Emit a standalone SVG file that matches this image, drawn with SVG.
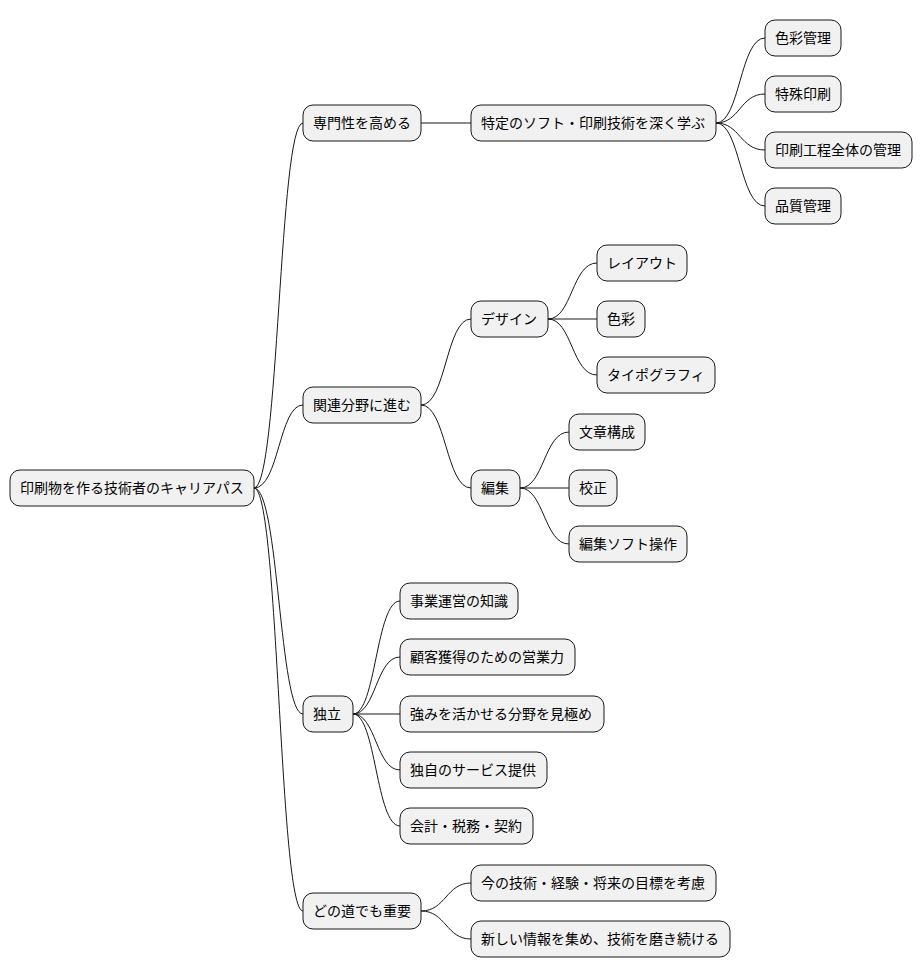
<svg xmlns="http://www.w3.org/2000/svg" width="922" height="978" viewBox="0 0 922 978">
<style>
rect{fill:#F1F1F1;stroke:#181818;stroke-width:1}
text{font-family:"Noto Sans CJK JP","Liberation Sans",sans-serif;font-size:14px;fill:#000}
#c path{fill:none;stroke:#181818;stroke-width:1}
</style>
<rect width="922" height="978" fill="#fff" style="fill:#fff;stroke:none"/>
<g id="c">
<path d="M254,488 C279,488 279,123 303,123"/>
<path d="M254,488 C279,488 279,405 303,405"/>
<path d="M254,488 C279,488 279,714 303,714"/>
<path d="M254,488 C279,488 279,911 303,911"/>
<path d="M421,123 L471,123"/>
<path d="M716,123 C740,123 740,38 765,38"/>
<path d="M716,123 C740,123 740,94 765,94"/>
<path d="M716,123 C740,123 740,150 765,150"/>
<path d="M716,123 C740,123 740,206 765,206"/>
<path d="M421,405 C446,405 446,319 471,319"/>
<path d="M421,405 C446,405 446,488 471,488"/>
<path d="M548,319 C572,319 572,263 597,263"/>
<path d="M548,319 L597,319"/>
<path d="M548,319 C572,319 572,375 597,375"/>
<path d="M520,488 C544,488 544,432 569,432"/>
<path d="M520,488 L569,488"/>
<path d="M520,488 C544,488 544,544 569,544"/>
<path d="M353,714 C376,714 376,601 400,601"/>
<path d="M353,714 C376,714 376,657 400,657"/>
<path d="M353,714 L400,714"/>
<path d="M353,714 C376,714 376,770 400,770"/>
<path d="M353,714 C376,714 376,826 400,826"/>
<path d="M421,911 C446,911 446,883 471,883"/>
<path d="M421,911 C446,911 446,939 471,939"/>
</g>
<g id="root"><rect x="10" y="470" width="244" height="36" rx="10"/><text x="20" y="493">印刷物を作る技術者のキャリアパス</text></g>
<g id="n1"><rect x="303" y="105" width="118" height="36" rx="10"/><text x="313" y="128">専門性を高める</text></g>
<g id="n2"><rect x="303" y="387" width="118" height="36" rx="10"/><text x="313" y="410">関連分野に進む</text></g>
<g id="n3"><rect x="303" y="696" width="50" height="36" rx="10"/><text x="313" y="719">独立</text></g>
<g id="n4"><rect x="303" y="893" width="118" height="36" rx="10"/><text x="313" y="916">どの道でも重要</text></g>
<g id="n11"><rect x="471" y="105" width="245" height="36" rx="10"/><text x="481" y="128">特定のソフト・印刷技術を深く学ぶ</text></g>
<g id="n111"><rect x="765" y="20" width="76" height="36" rx="10"/><text x="775" y="43">色彩管理</text></g>
<g id="n112"><rect x="765" y="76" width="76" height="36" rx="10"/><text x="775" y="99">特殊印刷</text></g>
<g id="n113"><rect x="765" y="132" width="147" height="36" rx="10"/><text x="775" y="155">印刷工程全体の管理</text></g>
<g id="n114"><rect x="765" y="188" width="76" height="36" rx="10"/><text x="775" y="211">品質管理</text></g>
<g id="n21"><rect x="471" y="301" width="77" height="36" rx="10"/><text x="481" y="324">デザイン</text></g>
<g id="n211"><rect x="597" y="245" width="90" height="36" rx="10"/><text x="607" y="268">レイアウト</text></g>
<g id="n212"><rect x="597" y="301" width="48" height="36" rx="10"/><text x="607" y="324">色彩</text></g>
<g id="n213"><rect x="597" y="357" width="118" height="36" rx="10"/><text x="607" y="380">タイポグラフィ</text></g>
<g id="n22"><rect x="471" y="470" width="49" height="36" rx="10"/><text x="481" y="493">編集</text></g>
<g id="n221"><rect x="569" y="414" width="76" height="36" rx="10"/><text x="579" y="437">文章構成</text></g>
<g id="n222"><rect x="569" y="470" width="48" height="36" rx="10"/><text x="579" y="493">校正</text></g>
<g id="n223"><rect x="569" y="526" width="118" height="36" rx="10"/><text x="579" y="549">編集ソフト操作</text></g>
<g id="n31"><rect x="400" y="583" width="118" height="36" rx="10"/><text x="410" y="606">事業運営の知識</text></g>
<g id="n32"><rect x="400" y="639" width="175" height="36" rx="10"/><text x="410" y="662">顧客獲得のための営業力</text></g>
<g id="n33"><rect x="400" y="696" width="204" height="36" rx="10"/><text x="410" y="719">強みを活かせる分野を見極め</text></g>
<g id="n34"><rect x="400" y="752" width="147" height="36" rx="10"/><text x="410" y="775">独自のサービス提供</text></g>
<g id="n35"><rect x="400" y="808" width="133" height="36" rx="10"/><text x="410" y="831">会計・税務・契約</text></g>
<g id="n41"><rect x="471" y="865" width="245" height="36" rx="10"/><text x="481" y="888">今の技術・経験・将来の目標を考慮</text></g>
<g id="n42"><rect x="471" y="921" width="259" height="36" rx="10"/><text x="481" y="944">新しい情報を集め、技術を磨き続ける</text></g>
</svg>
